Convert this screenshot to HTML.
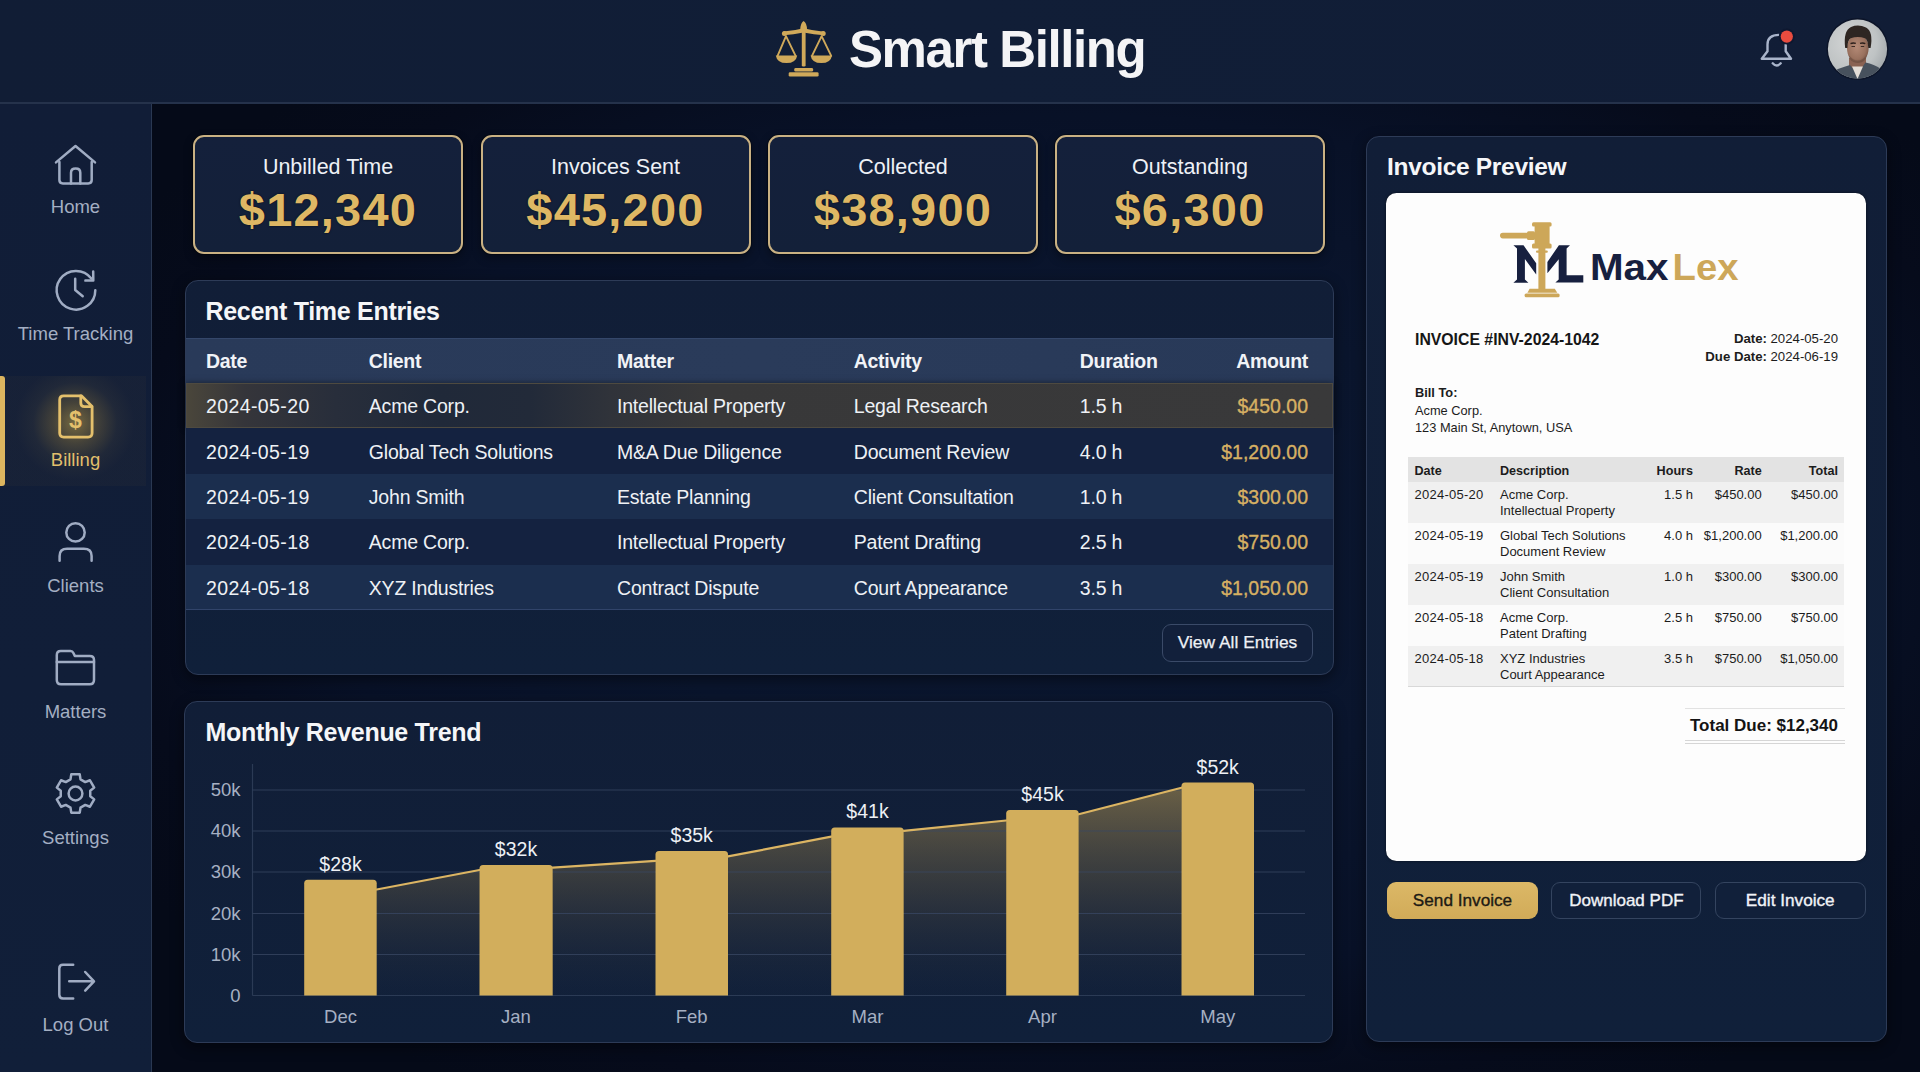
<!DOCTYPE html>
<html><head><meta charset="utf-8"><title>Smart Billing</title>
<style>
*{margin:0;padding:0;box-sizing:border-box}
html,body{width:1920px;height:1072px;overflow:hidden}
body{position:relative;font-family:"Liberation Sans",sans-serif;background:#0a1124;color:#f2f4f8}
.a{position:absolute}
.t{position:absolute;white-space:nowrap;line-height:1}
#hdr{left:0;top:0;width:1920px;height:102px;background:linear-gradient(90deg,#111d35 0%,#111e37 50%,#111d36 100%)}
#hdrline{left:0;top:102px;width:1920px;height:2px;background:#25324b}
#side{left:0;top:104px;width:151px;height:968px;background:linear-gradient(180deg,#111d37 0%,#111e38 60%,#111f39 100%)}
#sideline{left:151px;top:104px;width:1px;height:968px;background:#2a3852}
#main{left:152px;top:104px;width:1768px;height:968px;background:radial-gradient(ellipse 62% 66% at 52% 46%,#0b1730 0%,#0a152d 40%,#081127 68%,#060b1b 88%,#050a18 100%)}
.nav{color:#a4afc3;font-size:18.5px;text-align:center;width:151px;left:0}
.card{border:2.4px solid #c9b183;box-shadow:0 0 0 1px rgba(0,0,0,0.35),0 4px 10px rgba(0,0,0,0.35);border-radius:11px;background:linear-gradient(180deg,#14203b 0%,#132039 100%);width:270px;height:119px;top:135px}
.clab{font-size:21.5px;color:#eef1f6;width:266px;text-align:center;left:0}
.cval{font-size:47px;font-weight:700;color:#deb764;text-shadow:0 0 2px rgba(0,0,0,0.7);width:266px;text-align:center;left:0;letter-spacing:1.2px}
.panel{border:1.3px solid #2d3b57;border-radius:13px;box-shadow:0 4px 14px rgba(0,0,0,0.45);background:linear-gradient(180deg,#111e37 0%,#10203a 100%)}
.ptitle{font-size:25px;font-weight:700;color:#f5f6f8;letter-spacing:-0.3px}
.th{font-size:19.5px;font-weight:700;color:#f1f3f7;letter-spacing:-0.3px}
.td{font-size:19.5px;color:#eef1f5;letter-spacing:-0.2px}
.amt{font-size:19.5px;color:#d6b063;-webkit-text-stroke:0.35px #d6b063;text-align:right}
</style></head>
<body>
<div id="hdr" class="a"></div>
<div id="hdrline" class="a"></div>
<div id="side" class="a"></div>
<div id="sideline" class="a"></div>
<div id="main" class="a"></div>

<!-- header logo -->
<svg class="a" style="left:770px;top:15px" width="70" height="70" viewBox="770 15 70 70">
 <g fill="#d0a95a" stroke="none">
  <path d="M800.2 29.8 Q800.6 22.6 803.6 21 Q806.7 22.6 807.1 29.8 Z"/>
  <rect x="801.8" y="29" width="3.8" height="37.6" rx="1.4"/>
  <path d="M783.4 31.6 Q793.5 30.8 803.6 28.2 Q814 30.8 824.2 31.8 L824.2 35.3 Q814 34.4 803.6 32.4 Q793.5 34.4 783.4 35.2 Z"/>
  <circle cx="784.4" cy="33.4" r="2.5"/>
  <circle cx="823.2" cy="33.6" r="2.5"/>
  <path d="M775.8 55.4 L797.2 55.4 Q796 63 786.5 63 Q777 63 775.8 55.4 Z"/>
  <path d="M810.6 55.4 L832 55.4 Q830.8 63 821.3 63 Q811.8 63 810.6 55.4 Z"/>
  <rect x="794.3" y="67.9" width="18.8" height="3.6" rx="1.3"/>
  <rect x="788.7" y="72.3" width="29.9" height="4.3" rx="1.3"/>
 </g>
 <g stroke="#d0a95a" stroke-width="1.9" fill="none" stroke-linecap="round">
  <path d="M786 36.2 L777.6 55.8 M786 36.2 L795.6 55.8"/>
  <path d="M821.6 36.2 L812 55.8 M821.6 36.2 L831.2 55.8"/>
 </g>
</svg>
<div class="t" style="left:849px;top:23.8px;font-size:51px;font-weight:700;color:#f4f4f6;letter-spacing:-1.4px">Smart Billing</div>

<!-- bell -->
<svg class="a" style="left:1750px;top:20px" width="50" height="55" viewBox="1750 20 50 55">
 <path d="M1779 34.9 Q1767.5 35 1767.5 44.5 L1767.5 51.2 L1761.8 58.8 L1791 58.8 L1785.7 51.2 L1785.7 44.5" fill="none" stroke="#a9b4ca" stroke-width="2.4" stroke-linejoin="round" stroke-linecap="round"/>
 <path d="M1772.7 63.3 Q1776.7 67.8 1780.7 63.3" fill="none" stroke="#a9b4ca" stroke-width="2.4" stroke-linecap="round"/>
 <circle cx="1786.8" cy="36.6" r="8" fill="#0e1830"/>
 <circle cx="1786.8" cy="36.6" r="6.1" fill="#e84c3f"/>
</svg>

<!-- avatar -->
<svg class="a" style="left:1826px;top:17px" width="64" height="64" viewBox="1826 17 64 64">
 <defs>
  <radialGradient id="avbg" cx="0.38" cy="0.4" r="0.7"><stop offset="0" stop-color="#d3d5d5"/><stop offset="0.6" stop-color="#bfc3c4"/><stop offset="1" stop-color="#9aa0a4"/></radialGradient>
  <radialGradient id="avface" cx="0.45" cy="0.45" r="0.6"><stop offset="0" stop-color="#b48a76"/><stop offset="0.7" stop-color="#9a725f"/><stop offset="1" stop-color="#7a5647"/></radialGradient>
  <clipPath id="avc"><circle cx="1857.5" cy="49" r="29.6"/></clipPath>
 </defs>
 <circle cx="1857.5" cy="49" r="31" fill="#0c1428"/>
 <g clip-path="url(#avc)">
  <rect x="1826" y="17" width="64" height="64" fill="url(#avbg)"/>
  <path d="M1849 58 L1849 70 L1866 70 L1866 58 Z" fill="#8a6252"/>
  <path d="M1828 84 Q1830 72 1838 69 Q1845 66.5 1850 65 L1857.5 74 L1865.5 62.5 Q1874 64 1881 69 Q1886 74 1888 84 Z" fill="#47515d"/>
  <path d="M1852 66.5 L1857.5 79 L1863 66.5 Z" fill="#e4ddd6"/>
  <ellipse cx="1857.8" cy="48.3" rx="10.8" ry="14.3" fill="url(#avface)"/>
  <path d="M1848.5 55 Q1857.8 66 1867 55 Q1866.5 62 1857.8 63 Q1849 62 1848.5 55 Z" fill="#5e4238" opacity="0.45"/>
  <path d="M1845.2 48 Q1843 31 1851 27 Q1858.5 24 1866 27.5 Q1873.5 31.5 1870.6 48 L1868.3 48 Q1868 40 1865 38.2 Q1858 35.8 1850.6 38.2 Q1847.6 40 1847.4 48 Z" fill="#2e2622"/>
  <path d="M1850.5 43.6 Q1853 42.6 1855.8 43.4 M1860 43.4 Q1862.8 42.6 1865.3 43.6" stroke="#2b1f1b" stroke-width="1.5" fill="none"/>
  <path d="M1851.5 46.5 L1855 46.5 M1860.8 46.5 L1864.2 46.5" stroke="#3b2a24" stroke-width="1.2"/>
 </g>
</svg>
<!-- sidebar active highlight -->
<div class="a" style="left:0;top:376px;width:146px;height:110px;background:radial-gradient(ellipse 60px 58px at 75px 47px,rgba(185,155,70,0.6) 0%,rgba(130,110,60,0.45) 35%,rgba(65,63,58,0.32) 70%,rgba(38,42,54,0.3) 100%)"></div>
<div class="a" style="left:0;top:376px;width:5px;height:110px;background:#dcb55f;border-radius:0 3px 3px 0"></div>

<!-- sidebar icons -->
<svg class="a" style="left:0;top:104px" width="151" height="968" viewBox="0 104 151 968">
 <g fill="none" stroke="#a0acc3" stroke-width="2.5" stroke-linecap="round" stroke-linejoin="round">
  <!-- home -->
  <path d="M56 162.4 L75.5 146 L95 162.4"/>
  <path d="M59.4 162 L59.4 180 Q59.4 183.4 62.8 183.4 L88.3 183.4 Q91.7 183.4 91.7 180 L91.7 162"/>
  <path d="M71 183.4 L71 172.8 Q71 168.6 75.65 168.6 Q80.3 168.6 80.3 172.8 L80.3 183.4"/>
  <!-- clock -->
  <path d="M95.3 290.2 A19.3 19.3 0 1 1 91.4 278.6"/>
  <path d="M93.2 271.6 L93.3 280.4 L85.4 280.6"/>
  <path d="M75.2 278.8 L75.2 290 L82.7 296.3"/>
  <!-- clients -->
  <circle cx="75.5" cy="532.4" r="9.2"/>
  <path d="M59.6 560.8 L59.6 556 Q59.6 548.8 67.1 548.8 L83.8 548.8 Q91.6 548.8 91.6 556 L91.6 560.8"/>
  <!-- folder -->
  <path d="M56.8 661.9 L56.8 655 Q56.8 651.1 60.8 651.1 L70.5 651.1 Q72.5 651.1 73.4 653 L74.8 655.9 L89.8 655.9 Q94 655.9 94 660 L94 680 Q94 684.3 89.8 684.3 L61 684.3 Q56.8 684.3 56.8 680 Z"/>
  <path d="M56.8 661.9 L94 661.9"/>
  <!-- gear -->
  <path d="M70.49 779.36 L71.26 774.36 L79.74 774.36 L80.51 779.36 L85.24 782.09 L89.95 780.26 L94.19 787.61 L90.25 790.77 L90.25 796.23 L94.19 799.39 L89.95 806.74 L85.24 804.91 L80.51 807.64 L79.74 812.64 L71.26 812.64 L70.49 807.64 L65.76 804.91 L61.05 806.74 L56.81 799.39 L60.75 796.23 L60.75 790.77 L56.81 787.61 L61.05 780.26 L65.76 782.09 Z"/>
  <circle cx="75.5" cy="793.5" r="6.9"/>
  <!-- logout -->
  <path d="M73.2 964.8 L63 964.8 Q59.3 964.8 59.3 968.5 L59.3 994.7 Q59.3 998.4 63 998.4 L73.2 998.4"/>
  <path d="M69.2 981.3 L93.6 981.3 M85.2 972 L94 981.3 L85.2 990.6"/>
 </g>
 <!-- billing -->
 <g fill="none" stroke="#e4c06c" stroke-width="2.8" stroke-linecap="round" stroke-linejoin="round">
  <path d="M81.4 395.8 L63.7 395.8 Q59.7 395.8 59.7 399.8 L59.7 433.1 Q59.7 437.1 63.7 437.1 L88.1 437.1 Q92.1 437.1 92.1 433.1 L92.1 406.6 Z"/>
  <path d="M80.8 396 L80.8 403 Q80.8 406.7 84.5 406.7 L91.8 406.7"/>
 </g>
 <text x="75.3" y="428" font-family="Liberation Sans" font-weight="700" font-size="23" fill="#e4c06c" text-anchor="middle">$</text>
</svg>
<div class="t nav" style="top:197.8px">Home</div>
<div class="t nav" style="top:325px">Time Tracking</div>
<div class="t nav" style="top:451.3px;color:#e2bf6c">Billing</div>
<div class="t nav" style="top:576.7px">Clients</div>
<div class="t nav" style="top:702.8px">Matters</div>
<div class="t nav" style="top:828.8px">Settings</div>
<div class="t nav" style="top:1016px">Log Out</div>

<!-- stat cards -->
<div class="a card" style="left:193px"><div class="t clab" style="top:20px">Unbilled Time</div><div class="t cval" style="top:49px">$12,340</div></div>
<div class="a card" style="left:480.5px"><div class="t clab" style="top:20px">Invoices Sent</div><div class="t cval" style="top:49px">$45,200</div></div>
<div class="a card" style="left:768px"><div class="t clab" style="top:20px">Collected</div><div class="t cval" style="top:49px">$38,900</div></div>
<div class="a card" style="left:1055px"><div class="t clab" style="top:20px">Outstanding</div><div class="t cval" style="top:49px">$6,300</div></div>

<!-- recent time entries -->
<div class="a panel" style="left:184.5px;top:280.3px;width:1149px;height:394.5px"></div>
<div class="t ptitle" style="left:205.5px;top:298.8px">Recent Time Entries</div>
<div class="a" style="left:185.5px;top:338px;width:1147px;height:45px;background:linear-gradient(90deg,#293a59 0%,#2a3b5a 50%,#283958 100%);border-top:1px solid #34476a"></div>
<div class="a" style="left:185.5px;top:383px;width:1147px;height:45.4px;background:linear-gradient(90deg,#4a463b 0%,#35353a 5%,#282e3b 13%,#202939 22%,#222a39 30%,#30333a 37%,#383839 45%,#39393a 100%);border:1px solid #4e4a40;box-shadow:0 0 6px rgba(0,0,0,0.5)"></div>
<div class="a" style="left:185.5px;top:428.4px;width:1147px;height:45.4px;background:#142240"></div>
<div class="a" style="left:185.5px;top:473.8px;width:1147px;height:45.4px;background:#1b2e4e"></div>
<div class="a" style="left:185.5px;top:519.2px;width:1147px;height:45.4px;background:#142240"></div>
<div class="a" style="left:185.5px;top:564.6px;width:1147px;height:45.4px;background:#1b2e4e;border-bottom:1px solid #31446a"></div>
<div class="t th" style="left:206px;top:351.9px">Date</div>
<div class="t th" style="left:368.8px;top:351.9px">Client</div>
<div class="t th" style="left:617px;top:351.9px">Matter</div>
<div class="t th" style="left:853.8px;top:351.9px">Activity</div>
<div class="t th" style="left:1079.8px;top:351.9px">Duration</div>
<div class="t th" style="left:1108px;width:200px;text-align:right;top:351.9px">Amount</div>

<div class="t td" style="left:206px;top:397.2px;letter-spacing:0.4px">2024-05-20</div>
<div class="t td" style="left:368.8px;top:397.2px">Acme Corp.</div>
<div class="t td" style="left:617px;top:397.2px">Intellectual Property</div>
<div class="t td" style="left:853.8px;top:397.2px">Legal Research</div>
<div class="t td" style="left:1079.8px;top:397.2px">1.5 h</div>
<div class="t amt" style="left:1108px;width:200px;top:397.2px">$450.00</div>

<div class="t td" style="left:206px;top:442.6px;letter-spacing:0.4px">2024-05-19</div>
<div class="t td" style="left:368.8px;top:442.6px">Global Tech Solutions</div>
<div class="t td" style="left:617px;top:442.6px">M&amp;A Due Diligence</div>
<div class="t td" style="left:853.8px;top:442.6px">Document Review</div>
<div class="t td" style="left:1079.8px;top:442.6px">4.0 h</div>
<div class="t amt" style="left:1108px;width:200px;top:442.6px">$1,200.00</div>

<div class="t td" style="left:206px;top:488px;letter-spacing:0.4px">2024-05-19</div>
<div class="t td" style="left:368.8px;top:488px">John Smith</div>
<div class="t td" style="left:617px;top:488px">Estate Planning</div>
<div class="t td" style="left:853.8px;top:488px">Client Consultation</div>
<div class="t td" style="left:1079.8px;top:488px">1.0 h</div>
<div class="t amt" style="left:1108px;width:200px;top:488px">$300.00</div>

<div class="t td" style="left:206px;top:533.4px;letter-spacing:0.4px">2024-05-18</div>
<div class="t td" style="left:368.8px;top:533.4px">Acme Corp.</div>
<div class="t td" style="left:617px;top:533.4px">Intellectual Property</div>
<div class="t td" style="left:853.8px;top:533.4px">Patent Drafting</div>
<div class="t td" style="left:1079.8px;top:533.4px">2.5 h</div>
<div class="t amt" style="left:1108px;width:200px;top:533.4px">$750.00</div>

<div class="t td" style="left:206px;top:578.8px;letter-spacing:0.4px">2024-05-18</div>
<div class="t td" style="left:368.8px;top:578.8px">XYZ Industries</div>
<div class="t td" style="left:617px;top:578.8px">Contract Dispute</div>
<div class="t td" style="left:853.8px;top:578.8px">Court Appearance</div>
<div class="t td" style="left:1079.8px;top:578.8px">3.5 h</div>
<div class="t amt" style="left:1108px;width:200px;top:578.8px">$1,050.00</div>

<div class="a" style="left:1162px;top:624px;width:151px;height:38px;border:1px solid #3a4a68;border-radius:9px;background:#12203b"></div>
<div class="t" style="left:1162px;width:151px;text-align:center;top:634.1px;font-size:17.4px;color:#eef1f5;-webkit-text-stroke:0.25px #eef1f5">View All Entries</div>
<!-- monthly revenue trend -->
<div class="a panel" style="left:184px;top:700.5px;width:1149px;height:342px"></div>
<div class="t ptitle" style="left:205.5px;top:719.8px">Monthly Revenue Trend</div>
<svg class="a" style="left:185px;top:750px" width="1147" height="290" viewBox="185 750 1147 290">
 <defs>
  <linearGradient id="af" gradientUnits="userSpaceOnUse" x1="0" y1="785" x2="0" y2="995">
   <stop offset="0" stop-color="#a88d50" stop-opacity="0.6"/>
   <stop offset="0.5" stop-color="#5e5643" stop-opacity="0.42"/>
   <stop offset="1" stop-color="#2a3040" stop-opacity="0.05"/>
  </linearGradient>
 </defs>
 <g font-family="Liberation Sans" font-size="18.5" fill="#a6b0c3" text-anchor="end">
  <text x="240.5" y="796">50k</text>
  <text x="240.5" y="837">40k</text>
  <text x="240.5" y="878">30k</text>
  <text x="240.5" y="919.5">20k</text>
  <text x="240.5" y="960.5">10k</text>
  <text x="240.5" y="1001.5">0</text>
 </g>
 <g fill="url(#af)">
  <polygon points="376.7,889.5 479.5,870 479.5,995 376.7,995"/>
  <polygon points="552.7,867.7 655.5,860.8 655.5,995 552.7,995"/>
  <polygon points="728,856.4 831.2,836.7 831.2,995 728,995"/>
  <polygon points="903.7,830.8 1006.2,820.5 1006.2,995 903.7,995"/>
  <polygon points="1078.7,814.3 1181.5,787.7 1181.5,995 1078.7,995"/>
 </g>
 <g stroke="#3a4864" stroke-opacity="0.75" stroke-width="1.2">
  <line x1="252.5" y1="790" x2="1305" y2="790"/>
  <line x1="252.5" y1="831" x2="1305" y2="831"/>
  <line x1="252.5" y1="872" x2="1305" y2="872"/>
  <line x1="252.5" y1="913.5" x2="1305" y2="913.5"/>
  <line x1="252.5" y1="954.5" x2="1305" y2="954.5"/>
  <line x1="252.5" y1="995.5" x2="1305" y2="995.5" stroke="#34445f"/>
  <line x1="252.5" y1="764" x2="252.5" y2="995.5" stroke="#34445f"/>
 </g>
 <g stroke="#dcb563" stroke-width="2.2" stroke-linecap="round">
  <line x1="376.7" y1="889.5" x2="479.5" y2="870"/>
  <line x1="552.7" y1="867.7" x2="655.5" y2="860.8"/>
  <line x1="728" y1="856.4" x2="831.2" y2="836.7"/>
  <line x1="903.7" y1="830.8" x2="1006.2" y2="820.5"/>
  <line x1="1078.7" y1="814.3" x2="1181.5" y2="787.7"/>
 </g>
 <g fill="#d2ae5c">
  <path d="M304.2 995.5 L304.2 883.3 Q304.2 879.8 307.7 879.8 L373.2 879.8 Q376.7 879.8 376.7 883.3 L376.7 995.5 Z"/>
  <path d="M479.5 995.5 L479.5 868.5 Q479.5 865 483 865 L549.2 865 Q552.7 865 552.7 868.5 L552.7 995.5 Z"/>
  <path d="M655.5 995.5 L655.5 854.5 Q655.5 851 659 851 L724.5 851 Q728 851 728 854.5 L728 995.5 Z"/>
  <path d="M831.2 995.5 L831.2 830.9 Q831.2 827.4 834.7 827.4 L900.2 827.4 Q903.7 827.4 903.7 830.9 L903.7 995.5 Z"/>
  <path d="M1006.2 995.5 L1006.2 813.5 Q1006.2 810 1009.7 810 L1075.2 810 Q1078.7 810 1078.7 813.5 L1078.7 995.5 Z"/>
  <path d="M1181.5 995.5 L1181.5 786 Q1181.5 782.5 1185 782.5 L1250.5 782.5 Q1254 782.5 1254 786 L1254 995.5 Z"/>
 </g>
 <g font-family="Liberation Sans" font-size="19.5" fill="#eef1f5" text-anchor="middle">
  <text x="340.5" y="871">$28k</text>
  <text x="516" y="856">$32k</text>
  <text x="691.7" y="842">$35k</text>
  <text x="867.5" y="818.4">$41k</text>
  <text x="1042.5" y="801">$45k</text>
  <text x="1217.7" y="773.8">$52k</text>
 </g>
 <g font-family="Liberation Sans" font-size="18.5" fill="#a6b0c3" text-anchor="middle">
  <text x="340.5" y="1023">Dec</text>
  <text x="516" y="1023">Jan</text>
  <text x="691.7" y="1023">Feb</text>
  <text x="867.5" y="1023">Mar</text>
  <text x="1042.5" y="1023">Apr</text>
  <text x="1217.7" y="1023">May</text>
 </g>
</svg>
<!-- invoice preview -->
<div class="a panel" style="left:1366px;top:136px;width:521px;height:906px"></div>
<div class="t ptitle" style="left:1387px;top:154.8px;font-size:24.5px">Invoice Preview</div>
<div class="a" style="left:1386.3px;top:192.8px;width:479.8px;height:668.2px;border-radius:10.5px;background:#fdfdfd;box-shadow:0 0 3px rgba(0,0,0,0.55)"></div>
<svg class="a" style="left:1495px;top:215px" width="250" height="90" viewBox="1495 215 250 90">
 <g fill="#cda759">
  <rect x="1500" y="232.8" width="36" height="5.6" rx="2.8"/>
  <rect x="1527" y="231.3" width="8" height="8.6" rx="1.5"/>
  <rect x="1534.6" y="224" width="15" height="20.5"/>
  <rect x="1532" y="222.2" width="19.6" height="4.2" rx="1.5"/>
  <rect x="1532" y="243.6" width="19.6" height="4.8" rx="1.5"/>
  <rect x="1538.4" y="248" width="7" height="41"/>
  <rect x="1536" y="250.5" width="11.8" height="2.2" rx="1"/>
  <polygon points="1529.6,288.7 1554.8,288.7 1557.3,292.8 1527.4,292.8"/>
  <rect x="1524.6" y="293.6" width="35" height="3.6" rx="1.5"/>
 </g>
 <g fill="#17203f">
  <polygon points="1513.4,245.3 1523.5,245.3 1536.2,263.2 1536.2,274.6 1524.9,259 1524.9,279.6 1528.4,282.8 1513.4,282.8 1517,279.6 1517,248.4"/>
  <polygon points="1547.4,262 1558.9,245.3 1570,245.3 1566.6,248.6 1566.6,275.2 1583.3,275.2 1583.3,282.6 1555.4,282.6 1558.7,279.6 1558.7,259.2 1547.4,273.2"/>
 </g>
 <text x="1590" y="280.4" font-family="Liberation Sans" font-weight="700" font-size="36.5" fill="#17203f" textLength="78.5" lengthAdjust="spacingAndGlyphs">Max</text>
 <text x="1672.6" y="280.4" font-family="Liberation Sans" font-weight="700" font-size="36.5" fill="#cda759" textLength="66" lengthAdjust="spacingAndGlyphs">Lex</text>
</svg>
<div class="t" style="left:1415px;top:331.6px;font-size:15.8px;font-weight:700;color:#161616">INVOICE #INV-2024-1042</div>
<div class="t" style="left:1638px;width:200px;text-align:right;top:332.4px;font-size:13.2px;color:#1c1c1c"><b>Date:</b> 2024-05-20</div>
<div class="t" style="left:1638px;width:200px;text-align:right;top:350.4px;font-size:13.2px;color:#1c1c1c"><b>Due Date:</b> 2024-06-19</div>
<div class="t" style="left:1415px;top:387px;font-size:12.8px;font-weight:700;color:#1c1c1c">Bill To:</div>
<div class="t" style="left:1415px;top:404.6px;font-size:12.8px;color:#1c1c1c">Acme Corp.</div>
<div class="t" style="left:1415px;top:422.1px;font-size:12.8px;color:#1c1c1c">123 Main St, Anytown, USA</div>

<div class="a" style="left:1408px;top:457px;width:436px;height:25px;background:#e3e3e3"></div>
<div class="a" style="left:1408px;top:482px;width:436px;height:41px;background:#f0f0f0"></div>
<div class="a" style="left:1408px;top:523px;width:436px;height:41px;background:#fbfbfb"></div>
<div class="a" style="left:1408px;top:564px;width:436px;height:41px;background:#f0f0f0"></div>
<div class="a" style="left:1408px;top:605px;width:436px;height:41px;background:#fbfbfb"></div>
<div class="a" style="left:1408px;top:646px;width:436px;height:41px;background:#f0f0f0;border-bottom:1px solid #d8d8d8"></div>
<svg class="a" style="left:1400px;top:455px" width="450" height="240" viewBox="1400 455 450 240" font-family="Liberation Sans" fill="#1c1c1c">
 <g font-weight="700" font-size="12.6">
  <text x="1414.5" y="475">Date</text><text x="1500" y="475">Description</text>
  <g text-anchor="end"><text x="1693" y="475">Hours</text><text x="1761.7" y="475">Rate</text><text x="1838" y="475">Total</text></g>
 </g>
 <g font-size="13">
  <text letter-spacing="0.25" x="1414.5" y="499.3">2024-05-20</text><text x="1500" y="499.3">Acme Corp.</text><text x="1500" y="514.8">Intellectual Property</text>
  <text letter-spacing="0.25" x="1414.5" y="540.3">2024-05-19</text><text x="1500" y="540.3">Global Tech Solutions</text><text x="1500" y="555.8">Document Review</text>
  <text letter-spacing="0.25" x="1414.5" y="581.3">2024-05-19</text><text x="1500" y="581.3">John Smith</text><text x="1500" y="596.8">Client Consultation</text>
  <text letter-spacing="0.25" x="1414.5" y="622.3">2024-05-18</text><text x="1500" y="622.3">Acme Corp.</text><text x="1500" y="637.8">Patent Drafting</text>
  <text letter-spacing="0.25" x="1414.5" y="663.3">2024-05-18</text><text x="1500" y="663.3">XYZ Industries</text><text x="1500" y="678.8">Court Appearance</text>
  <g text-anchor="end">
   <text x="1693" y="499.3">1.5 h</text><text x="1761.7" y="499.3">$450.00</text><text x="1838" y="499.3">$450.00</text>
   <text x="1693" y="540.3">4.0 h</text><text x="1761.7" y="540.3">$1,200.00</text><text x="1838" y="540.3">$1,200.00</text>
   <text x="1693" y="581.3">1.0 h</text><text x="1761.7" y="581.3">$300.00</text><text x="1838" y="581.3">$300.00</text>
   <text x="1693" y="622.3">2.5 h</text><text x="1761.7" y="622.3">$750.00</text><text x="1838" y="622.3">$750.00</text>
   <text x="1693" y="663.3">3.5 h</text><text x="1761.7" y="663.3">$750.00</text><text x="1838" y="663.3">$1,050.00</text>
  </g>
 </g>
</svg>
<div class="a" style="left:1685px;top:707.5px;width:160px;height:1px;background:#e2e2e2"></div>
<div class="t" style="left:1600px;width:238px;text-align:right;top:716.6px;font-size:17px;font-weight:700;color:#141414">Total Due: $12,340</div>
<div class="a" style="left:1685px;top:739.5px;width:160px;height:1.2px;background:#d6d6d6"></div>
<div class="a" style="left:1685px;top:742.5px;width:160px;height:1.2px;background:#d6d6d6"></div>

<div class="a" style="left:1386.6px;top:881.5px;width:151.8px;height:37.5px;border-radius:9px;background:linear-gradient(180deg,#dcb867 0%,#d1ab58 100%)"></div>
<div class="t" style="left:1386.6px;width:151.8px;text-align:center;top:892.4px;font-size:17.2px;color:#1d1a14;-webkit-text-stroke:0.35px #1d1a14">Send Invoice</div>
<div class="a" style="left:1551.4px;top:881.5px;width:150px;height:37.5px;border-radius:9px;border:1px solid #34445f;background:#11203a"></div>
<div class="t" style="left:1551.4px;width:150px;text-align:center;top:892.4px;font-size:17px;color:#f1f3f7;-webkit-text-stroke:0.35px #f1f3f7">Download PDF</div>
<div class="a" style="left:1714.5px;top:881.5px;width:151.5px;height:37.5px;border-radius:9px;border:1px solid #34445f;background:#11203a"></div>
<div class="t" style="left:1714.5px;width:151.5px;text-align:center;top:892.4px;font-size:17.2px;color:#f1f3f7;-webkit-text-stroke:0.35px #f1f3f7">Edit Invoice</div>
</body></html>
